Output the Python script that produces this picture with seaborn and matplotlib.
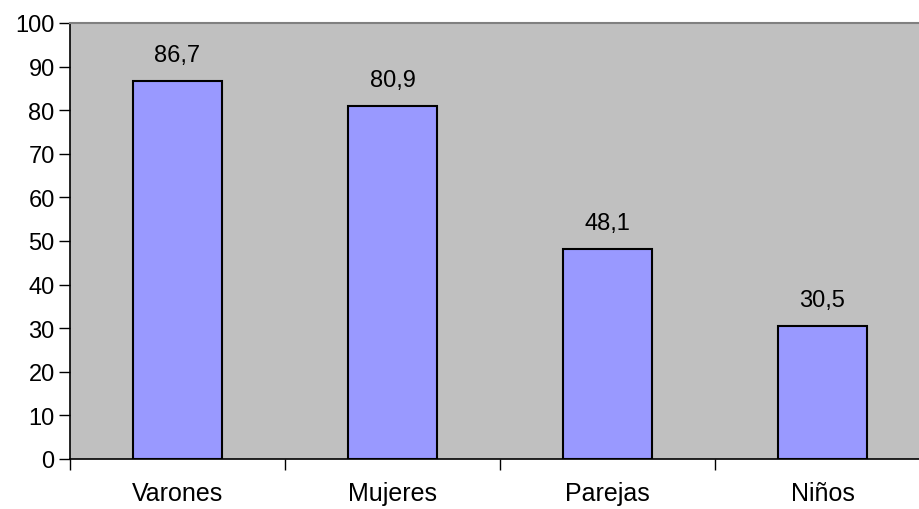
import matplotlib
matplotlib.use("Agg")
import matplotlib.pyplot as plt
import seaborn as sns
import pandas as pd

categories = ["Varones", "Mujeres", "Parejas", "Niños"]
values = [86.7, 80.9, 48.1, 30.5]

data = pd.DataFrame({"cat": categories, "val": values})

sns.set_style("white")
plt.rcParams['font.family'] = ['Liberation Sans', 'DejaVu Sans']
plt.rcParams['text.color'] = 'black'
plt.rcParams['xtick.color'] = 'black'
plt.rcParams['ytick.color'] = 'black'

fig = plt.figure(figsize=(9.2, 5.1), dpi=100)
# plot area runs a little past the right edge of the picture
ax = fig.add_axes([70/920, (510-460)/510, 860/920, 436/510])
ax.set_facecolor("#C0C0C0")

sns.barplot(x="cat", y="val", data=data, color="#9999FF", saturation=1,
            edgecolor="black", linewidth=1.5, width=0.41, ax=ax)

for i, v in enumerate(values):
    ax.text(i, v + 3.5, f"{v:.1f}".replace(".", ","), ha="center", va="bottom",
            fontsize=17, color="black")

ax.set_xlim(-0.5, 3.5)
ax.set_ylim(0, 100)
ax.set_yticks(range(0, 101, 10))
ax.set_xlabel("")
ax.set_ylabel("")

ax.set_xticks([0, 1, 2, 3])
ax.set_xticklabels(categories)
ax.set_xticks([-0.5, 0.5, 1.5, 2.5, 3.5], minor=True)
ax.tick_params(axis="x", which="major", length=0, pad=16, labelsize=18,
               labelcolor="black")
ax.tick_params(axis="x", which="minor", length=8, width=1, direction="out",
               bottom=True, color="black")
ax.tick_params(axis="y", length=8, width=1, direction="out", left=True,
               labelsize=17, pad=3, color="black", labelcolor="black")

for s in ["left", "bottom"]:
    ax.spines[s].set_color("black")
    ax.spines[s].set_linewidth(1.2)
ax.spines["top"].set_color("#808080")
ax.spines["top"].set_linewidth(1.5)
ax.spines["right"].set_visible(False)

fig.savefig("out.png", dpi=100)
